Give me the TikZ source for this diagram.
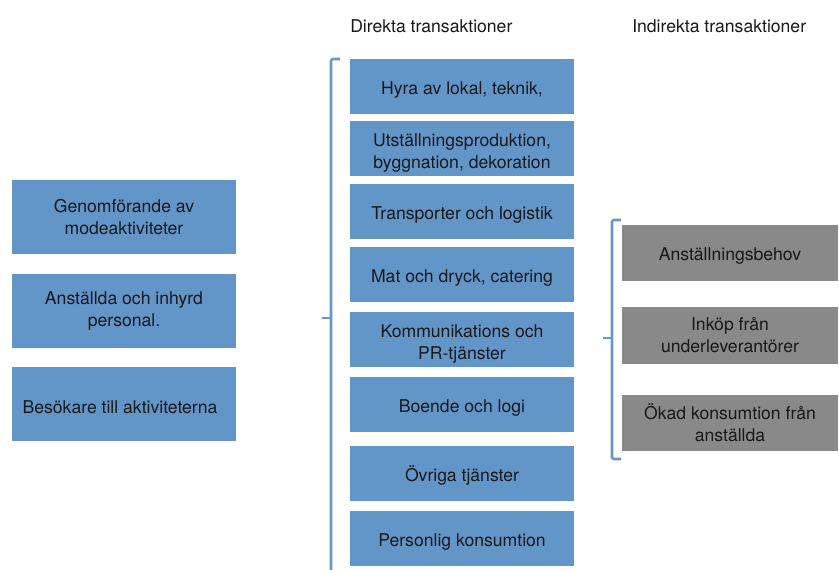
\documentclass[tikz,border=0pt]{standalone}
\usepackage{fontspec}
\setmainfont{TeX Gyre Heros}
\usetikzlibrary{positioning}
\definecolor{boxblue}{RGB}{98,150,201}
\definecolor{boxgrey}{RGB}{137,137,137}
\definecolor{braceblue}{RGB}{101,151,206}
\definecolor{textdark}{RGB}{24,24,24}
\newcommand{\lowline}{\rule{0pt}{17pt}}

\begin{document}
\begin{tikzpicture}[x=0.75pt,y=-0.75pt,
    every node/.style={text=textdark,font=\fontsize{13.2}{16.5}\selectfont,align=center,inner sep=0pt},
    boxtext/.style={execute at begin node={\rule{0pt}{14.5pt}}},
    bluebox/.style={boxtext,fill=boxblue,minimum width=168pt,minimum height=41.25pt},
    leftbox/.style={boxtext,fill=boxblue,minimum width=168pt,minimum height=55.5pt},
    greybox/.style={boxtext,fill=boxgrey,minimum width=162pt,minimum height=42pt},
    bracket/.style={draw=braceblue,line width=1.9pt,rounded corners=1.5pt}]
    \useasboundingbox (0,0) rectangle (839,570);

    \node [anchor=west] (direkta) at (350,26.5) {Direkta transaktioner};
    \node [anchor=west] (indirekta) at (632,26.5) {Indirekta transaktioner};

    \node [leftbox] (genomf) at (124,217) {Genomförande av\\modeaktiviteter};
    \node [leftbox] (anst)   at (124,311) {Anställda och inhyrd\\personal.};
    \node [leftbox] (besok)  at (124,404) {\hspace*{-6pt}Besökare till aktiviteterna};

    \node [bluebox] (hyra)   at (462,86.5)  {Hyra av lokal, teknik,};
    \node [bluebox] (utst)   at (462,148.5) {\lowline Utställningsproduktion,\\byggnation, dekoration};
    \node [bluebox] (transp) at (462,211.5) {Transporter och logistik};
    \node [bluebox] (mat)    at (462,274.5) {Mat och dryck, catering};
    \node [bluebox] (komm)   at (462,339.5) {\lowline Kommunikations och\\PR-tjänster};
    \node [bluebox] (boende) at (462,404.5) {Boende och logi};
    \node [bluebox] (ovriga) at (462,473.5) {Övriga tjänster};
    \node [bluebox] (pers)   at (462,538.5) {Personlig konsumtion};

    \node [greybox] (anstbehov) at (730,253)   {Anställningsbehov};
    \node [greybox] (inkop)     at (730,335.5) {Inköp från\\underleverantörer};
    \node [greybox] (okad)      at (730,423)   {Ökad konsumtion från\\anställda};

    % klammer runt direkta transaktioner
    \draw [bracket] (340,59) -- (331,59) -- (331,575);
    \draw [bracket] (331,318) -- (322,318);

    % klammer runt indirekta transaktioner
    \draw [bracket] (621,220) -- (612,220) -- (612,459) -- (621,459);
    \draw [bracket] (612,338) -- (603,338);
\end{tikzpicture}
\end{document}
